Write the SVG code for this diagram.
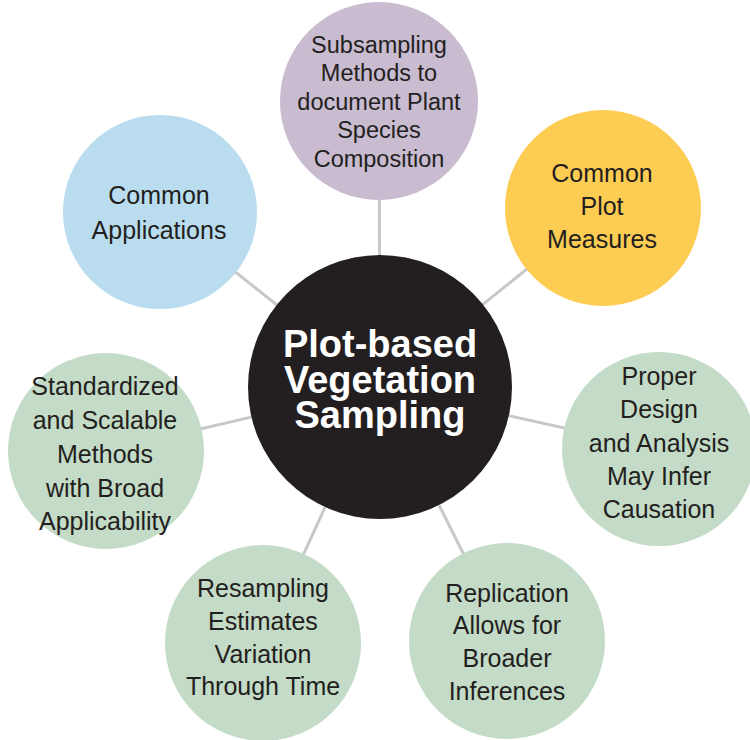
<svg xmlns="http://www.w3.org/2000/svg" width="750" height="740" viewBox="0 0 750 740">
<style>
.conn line{stroke:#c8c8c8;stroke-width:3}
.node text{font-family:"Liberation Sans",Arial,sans-serif;font-size:25px;fill:#231f20;text-anchor:middle}
#center text{font-family:"Liberation Sans",Arial,sans-serif;font-size:38px;font-weight:bold;fill:#ffffff;text-anchor:middle}
</style>
<rect width="750" height="740" fill="#ffffff"/>
<g class="conn" id="connectors">
<line x1="380" y1="387" x2="379" y2="101"/>
<line x1="380" y1="387" x2="603" y2="208"/>
<line x1="380" y1="387" x2="160" y2="212"/>
<line x1="380" y1="387" x2="106" y2="451"/>
<line x1="380" y1="387" x2="659" y2="449"/>
<line x1="380" y1="387" x2="263" y2="643"/>
<line x1="380" y1="387" x2="507" y2="641"/>
</g>
<g class="node" id="n-subsampling">
<circle cx="379" cy="101" r="99" fill="#c9bbd0"/>
<text style="font-size:23.5px"><tspan x="379" y="53">Subsampling</tspan><tspan x="379" y="81">Methods to</tspan><tspan x="379" y="110">document Plant</tspan><tspan x="379" y="138">Species</tspan><tspan x="379" y="167">Composition</tspan></text>
</g>
<g class="node" id="n-measures">
<circle cx="603" cy="208" r="98" fill="#fdcc52"/>
<text><tspan x="602" y="182">Common</tspan><tspan x="602" y="215">Plot</tspan><tspan x="602" y="248">Measures</tspan></text>
</g>
<g class="node" id="n-applications">
<circle cx="160" cy="212" r="97" fill="#b9ddef"/>
<text><tspan x="159" y="204">Common</tspan><tspan x="159" y="239">Applications</tspan></text>
</g>
<g class="node" id="n-standardized">
<circle cx="106" cy="451" r="98" fill="#c3dbc7"/>
<text><tspan x="105" y="395">Standardized</tspan><tspan x="105" y="429">and Scalable</tspan><tspan x="105" y="463">Methods</tspan><tspan x="105" y="497">with Broad</tspan><tspan x="105" y="530">Applicability</tspan></text>
</g>
<g class="node" id="n-design">
<circle cx="659" cy="449" r="97" fill="#c3dbc7"/>
<text><tspan x="659" y="385">Proper</tspan><tspan x="659" y="418">Design</tspan><tspan x="659" y="452">and Analysis</tspan><tspan x="659" y="485">May Infer</tspan><tspan x="659" y="518">Causation</tspan></text>
</g>
<g class="node" id="n-resampling">
<circle cx="263" cy="643" r="98" fill="#c3dbc7"/>
<text><tspan x="263" y="597">Resampling</tspan><tspan x="263" y="630">Estimates</tspan><tspan x="263" y="663">Variation</tspan><tspan x="263" y="695">Through Time</tspan></text>
</g>
<g class="node" id="n-replication">
<circle cx="507" cy="641" r="98" fill="#c3dbc7"/>
<text><tspan x="507" y="602">Replication</tspan><tspan x="507" y="634">Allows for</tspan><tspan x="507" y="667">Broader</tspan><tspan x="507" y="700">Inferences</tspan></text>
</g>
<g id="center">
<circle cx="380" cy="387" r="132" fill="#231f20"/>
<text><tspan x="380" y="357">Plot-based</tspan><tspan x="380" y="393">Vegetation</tspan><tspan x="380" y="428">Sampling</tspan></text>
</g>
</svg>
